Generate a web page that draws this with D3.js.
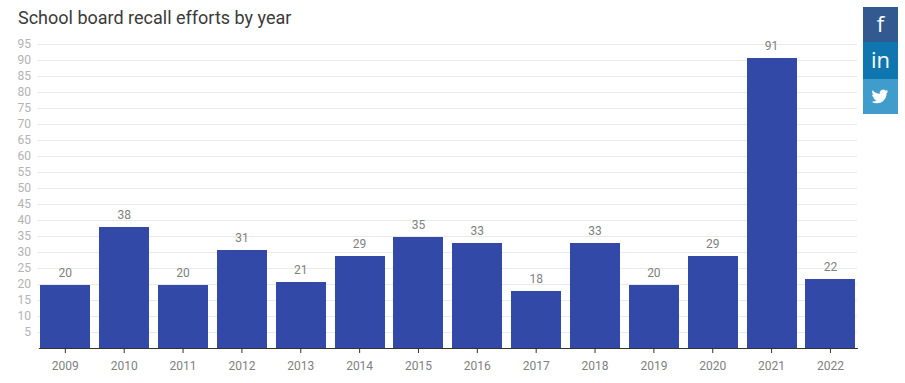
<!DOCTYPE html>
<html>
<head>
<meta charset="utf-8">
<script src="https://cdn.jsdelivr.net/npm/d3@7"></script>
<style>
    html, body { margin: 0; padding: 0; background: #fff; }
    svg { display: block; font-family: Roboto, sans-serif; }
</style>
</head>
<body>
<svg id="chart" width="905" height="383"></svg>
<script>
const years = ["2009", "2010", "2011", "2012", "2013", "2014", "2015", "2016", "2017", "2018", "2019", "2020", "2021", "2022"];
const recalls = [20, 38, 20, 31, 21, 29, 35, 33, 18, 33, 20, 29, 91, 22];
const yTicks = [5, 10, 15, 20, 25, 30, 35, 40, 45, 50, 55, 60, 65, 70, 75, 80, 85, 90, 95];
const title = "School board recall efforts by year";

const margin = {top: 44, right: 48, bottom: 35, left: 38};
const width = 905, height = 383;
const svg = d3.select("#chart");

const x = d3.scaleBand()
    .domain(years)
    .range([margin.left + 0.4, width - margin.right + 0.4])
    .paddingInner(0.15)
    .paddingOuter(0.033);

const y = d3.scaleLinear()
    .domain([0, 95])
    .range([height - margin.bottom, margin.top]);

svg.append("text")
    .attr("x", 18)
    .attr("y", 24)
    .attr("font-size", 18)
    .attr("fill", "#3a3a3a")
    .text(title);

// Eixo Y com as linhas de grade
const yAxis = svg.append("g")
    .attr("transform", `translate(${margin.left},0)`)
    .call(d3.axisLeft(y).tickValues(yTicks).tickSize(0).tickPadding(7));
yAxis.select(".domain").remove();
yAxis.selectAll(".tick line")
    .attr("x2", width - margin.right - margin.left)
    .attr("stroke", "#eaeaea");
yAxis.selectAll(".tick text")
    .attr("font-family", "Roboto, sans-serif")
    .attr("font-size", 12)
    .attr("fill", "#b3b3b3");

// As barras ficam 1px abaixo da grade, como na referencia
svg.append("g")
    .selectAll("rect")
    .data(recalls)
    .join("rect")
    .attr("x", (d, i) => Math.round(x(years[i])))
    .attr("y", d => Math.round(y(d)) + 1)
    .attr("width", Math.round(x.bandwidth()))
    .attr("height", d => y(0) - Math.round(y(d)) - 1)
    .attr("fill", "#3349a8");

svg.append("g")
    .selectAll("text")
    .data(recalls)
    .join("text")
    .attr("x", (d, i) => x(years[i]) + x.bandwidth() / 2)
    .attr("y", d => Math.round(y(d)) - 7)
    .attr("text-anchor", "middle")
    .attr("font-size", 12)
    .attr("fill", "#808080")
    .text(d => d);

// Eixo X
const xAxis = svg.append("g")
    .attr("transform", `translate(0,${height - margin.bottom})`)
    .call(d3.axisBottom(x).tickSize(5).tickPadding(8).tickSizeOuter(0));
xAxis.select(".domain").attr("stroke", "#333");
xAxis.selectAll(".tick line").attr("stroke", "#333");
xAxis.selectAll(".tick text")
    .attr("font-family", "Roboto, sans-serif")
    .attr("font-size", 12)
    .attr("fill", "#808080");

// Botoes de compartilhar
const share = svg.append("g").attr("transform", "translate(863,0)");
share.append("rect").attr("y", 7).attr("width", 35).attr("height", 35).attr("fill", "#335a90");
share.append("rect").attr("y", 42).attr("width", 35).attr("height", 37).attr("fill", "#0f76b0");
share.append("rect").attr("y", 79).attr("width", 35).attr("height", 35).attr("fill", "#3f9ccb");
share.append("text")
    .attr("x", 17.5).attr("y", 32)
    .attr("text-anchor", "middle")
    .attr("font-family", "'Open Sans', sans-serif")
    .attr("font-size", 22)
    .attr("fill", "#fff")
    .text("f");
share.append("text")
    .attr("x", 17.5).attr("y", 68)
    .attr("text-anchor", "middle")
    .attr("font-family", "'Open Sans', sans-serif")
    .attr("font-size", 22)
    .attr("fill", "#fff")
    .text("in");
share.append("path")
    .attr("transform", "translate(8.5,88) scale(0.7)")
    .attr("fill", "#fff")
    .attr("d", "M23.953 4.57a10 10 0 01-2.825.775 4.958 4.958 0 002.163-2.723c-.951.555-2.005.959-3.127 1.184a4.92 4.92 0 00-8.384 4.482C7.69 8.095 4.067 6.13 1.64 3.162a4.822 4.822 0 00-.666 2.475c0 1.71.87 3.213 2.188 4.096a4.904 4.904 0 01-2.228-.616v.06a4.923 4.923 0 003.946 4.827 4.996 4.996 0 01-2.212.085 4.936 4.936 0 004.604 3.417 9.867 9.867 0 01-6.102 2.105c-.39 0-.779-.023-1.17-.067a13.995 13.995 0 007.557 2.209c9.053 0 13.998-7.496 13.998-13.985 0-.21 0-.42-.015-.63A9.935 9.935 0 0024 4.59z");
</script>
</body>
</html>
